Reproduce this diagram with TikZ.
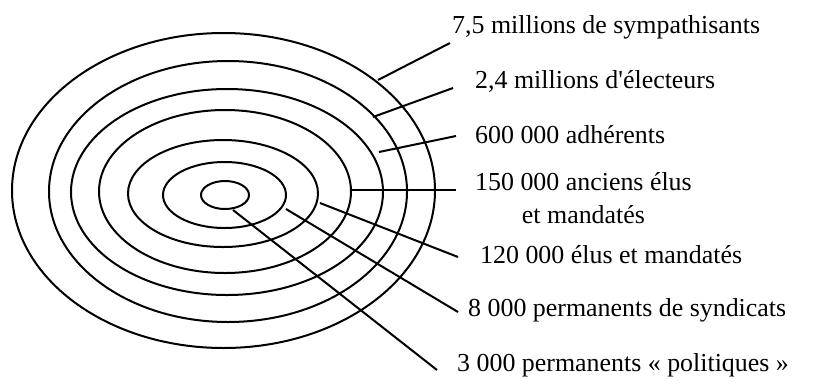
\documentclass[tikz,border=0pt]{standalone}
\usepackage{fontspec}
\setmainfont{Liberation Serif}
\usetikzlibrary{positioning}
\tikzset{
  ring/.style={draw, line width=2bp},
  lead/.style={line width=2bp},
  lbl/.style={anchor=west, inner sep=0pt, align=center, font=\fontsize{26}{33}\selectfont}
}

\begin{document}
\begin{tikzpicture}[x=1bp, y=-1bp]
    \useasboundingbox (0,0) rectangle (813,383);
    % concentric rings, outermost first
    \draw[ring] (223.5,190.5) ellipse [x radius=211.5, y radius=157.5];
    \draw[ring] (228,191.5) ellipse [x radius=179, y radius=130.5];
    \draw[ring] (227,192) ellipse [x radius=156, y radius=103];
    \draw[ring] (225,191.5) ellipse [x radius=126, y radius=81.5];
    \draw[ring] (223,193.5) ellipse [x radius=95, y radius=53.5];
    \draw[ring] (224.5,195) ellipse [x radius=61.5, y radius=33];
    \draw[ring] (225,195) ellipse [x radius=24, y radius=14];
    % labels
    \node[lbl] (symp) at (452,27) {7,5 millions de sympathisants};
    \node[lbl] (elec) at (475,81) {2,4 millions d\textquotesingle électeurs};
    \node[lbl] (adh) at (475,135) {600 000 adhérents};
    \node[lbl] (anc) at (475,198.5) {150 000 anciens élus\\et mandatés};
    \node[lbl] (elus) at (480,255) {120 000 élus et mandatés};
    \node[lbl] (synd) at (468,310) {8 000 permanents de syndicats};
    \node[lbl] (pol) at (457,365) {3 000 permanents «~politiques~»};
    % leader lines
    \coordinate (s1) at (378,80);  \coordinate (e1) at (450,43);
    \coordinate (s2) at (373,117); \coordinate (e2) at (453,88);
    \coordinate (s3) at (379,152); \coordinate (e3) at (456,136);
    \coordinate (s4) at (352,190); \coordinate (e4) at (456,190);
    \coordinate (s5) at (320,203); \coordinate (e5) at (458,257);
    \coordinate (s6) at (286,209); \coordinate (e6) at (458,312);
    \coordinate (s7) at (233,210); \coordinate (e7) at (437,370);
    \draw[lead] (s1) -- (e1);
    \draw[lead] (s2) -- (e2);
    \draw[lead] (s3) -- (e3);
    \draw[lead] (s4) -- (e4);
    \draw[lead] (s5) -- (e5);
    \draw[lead] (s6) -- (e6);
    \draw[lead] (s7) -- (e7);
\end{tikzpicture}
\end{document}
